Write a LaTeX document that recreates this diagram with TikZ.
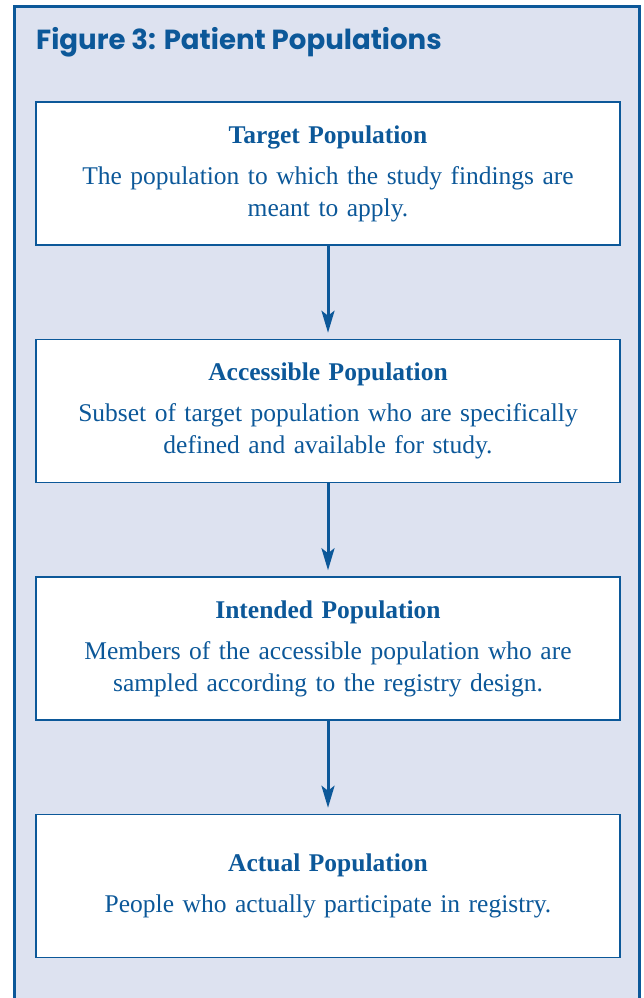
\documentclass[tikz,border=0pt]{standalone}
\usepackage{fontspec}
\setmainfont{Liberation Serif}
\newfontfamily\titlefont{Poppins}
\usetikzlibrary{positioning,arrows.meta}
\definecolor{popblue}{RGB}{12,88,153}
\definecolor{panelbg}{RGB}{221,226,240}

\begin{document}
\begin{tikzpicture}[x=1pt,y=1pt,
    popbox/.style={draw=popblue, line width=1.5pt, fill=white,
      minimum width=584pt, minimum height=143pt, text width=570pt,
      align=center, text=popblue, inner sep=0pt,
      font=\fontsize{25.5}{32}\selectfont},
    flow/.style={draw=popblue, line width=3pt,
      -{Stealth[length=22pt,width=13pt,inset=5pt]}, shorten >=6pt},
    node distance=93pt]
    % Draw the panel
    \useasboundingbox (0,0) rectangle (644,-998);
    \fill[panelbg] (14,-7) rectangle (639,-998);
    \draw[popblue, line width=3pt] (14,-998) -- (14,-7) -- (639,-7) -- (639,-998);
    \node[anchor=west, inner sep=0pt, text=popblue,
      font=\titlefont\bfseries\fontsize{27.6}{30}\selectfont] (title) at (36,-42)
      {Figure 3: Patient Populations};

    % Draw the four population boxes
    \node[popbox] (target) at (328,-173.5)
      {\textbf{Target Population}\\[9pt]
       The population to which the study findings are\\ meant to apply.};
    \node[popbox, below=of target] (accessible)
      {\textbf{Accessible Population}\\[9pt]
       Subset of target population who are specifically\\ defined and available for study.};
    \node[popbox, below=of accessible] (intended)
      {\textbf{Intended Population}\\[9pt]
       Members of the accessible population who are\\ sampled according to the registry design.};
    \node[popbox, below=of intended] (actual)
      {\textbf{Actual Population}\\[9pt]
       People who actually participate in registry.};

    % Draw the arrows
    \draw[flow] (target) -- (accessible);
    \draw[flow] (accessible) -- (intended);
    \draw[flow] (intended) -- (actual);
\end{tikzpicture}
\end{document}
